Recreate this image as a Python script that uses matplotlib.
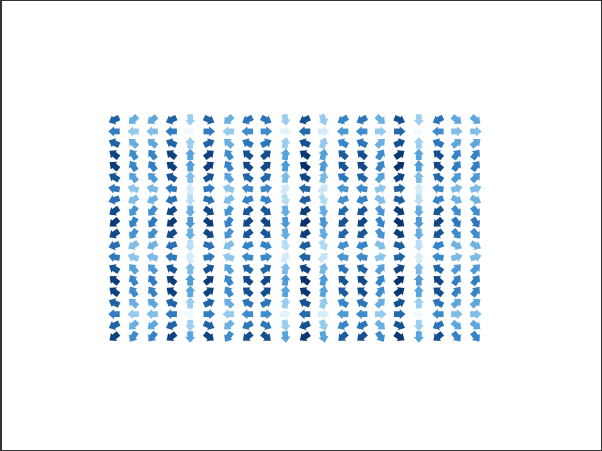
import numpy as np
import matplotlib
matplotlib.use("Agg")
import matplotlib.pyplot as plt
from matplotlib.colors import LinearSegmentedColormap, Normalize

# --- Data: vector field on a 20 x 20 grid --------------------------------------
# horizontal component, one value per column (left -> right)
VX = [-0.60, -0.30, -0.35, -0.60, 0.00, 0.60, -0.30, -0.55, 0.55, 0.05,
      -0.65, 0.10, -0.50, -0.55, 0.30, 0.65, 0.00, -0.55, 0.35, 0.35]
# vertical component, one value per row (top -> bottom)
VY = [-0.28, 0.00, 0.28, 0.46, 0.49, 0.36, 0.10, -0.19, -0.42, -0.50,
      -0.42, -0.19, 0.10, 0.36, 0.49, 0.46, 0.28, 0.00, -0.28, -0.46]

COLS = list(range(len(VX)))
ROWS = list(range(len(VY)))

# --- Grid ----------------------------------------------------------------------
X, Y = np.meshgrid(COLS, ROWS)
U, V = np.meshgrid(VX, VY)
mag = np.hypot(U, V)
ang = np.arctan2(V, U)

cmap = LinearSegmentedColormap.from_list(
    "field",
    [(0.0, "#f2faff"), (0.3, "#a8d6f2"), (0.55, "#5ba6dd"),
     (0.72, "#3381c6"), (0.87, "#14508f"), (1.0, "#08306b")])

# --- Plot ----------------------------------------------------------------------
fig = plt.figure(figsize=(6.02, 4.52), dpi=100,
                 linewidth=1.0, edgecolor="#333333")
ax = fig.add_axes([0, 0, 1, 1])

ax.quiver(X, Y, np.cos(ang), np.sin(ang), mag,
          cmap=cmap, norm=Normalize(0, mag.max()),
          pivot="middle", angles="uv",
          scale_units="inches", scale=1 / 0.115,
          units="inches", width=0.058,
          headwidth=1.75, headlength=1.0, headaxislength=1.0)

# place the columns at 114..476 px and rows at 121..338 px
ax.set_xlim(-114 / 19.05, (602 - 114) / 19.05)
ax.set_ylim((452 - 121) / 11.42, -121 / 11.42)
ax.axis("off")

plt.savefig("out.png", dpi=100)
